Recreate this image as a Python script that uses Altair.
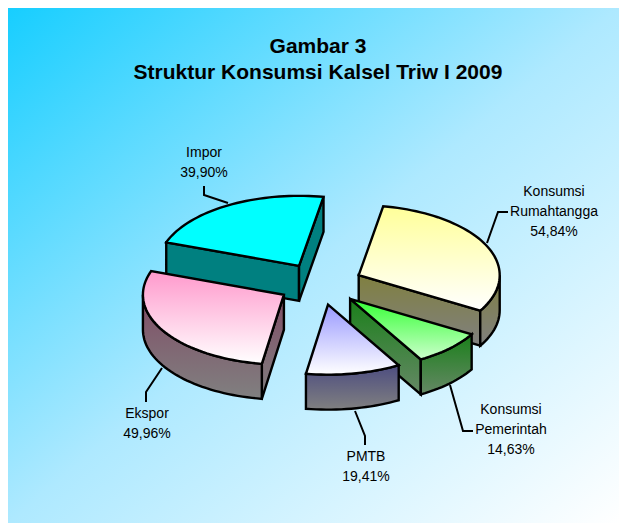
import math
import altair as alt
import pandas as pd

# ---- data ----
categories = ["Konsumsi Rumahtangga", "Konsumsi Pemerintah", "PMTB", "Ekspor", "Impor"]
values = [54.84, 14.63, 19.41, 49.96, 39.90]
value_labels = ["54,84%", "14,63%", "19,41%", "49,96%", "39,90%"]
label_lines = [["Konsumsi", "Rumahtangga"], ["Konsumsi", "Pemerintah"], ["PMTB"], ["Ekspor"], ["Impor"]]
title_lines = ["Gambar 3", "Struktur Konsumsi Kalsel Triw I 2009"]

# ---- layout and style (pixels in the picture) ----
W, H = 611, 515
OX, OY = 8, 8
CX, CY, RX, RY, DEPTH, EXPLODE = 320.3, 284.0, 141, 70, 35, 0.30
START = -80.0
top_colors = [("#FFFF99", "#FFFFFF"), ("#33FF33", "#CCFFCC"), ("#9999FF", "#FFFFFF"),
              ("#FF99CC", "#FFFFFF"), ("#00FFFF", "#00FFFF")]
wall_colors = [("#808040", "#808080"), ("#1A801A", "#668866"), ("#4D4D80", "#808080"),
               ("#804D66", "#808080"), ("#008080", "#008080")]
draw_order = [4, 0, 3, 1, 2]
label_pos = [(554, 192), (511, 410), (366, 457), (147, 414), (204, 153)]
LINE_STEP = 20
leaders = [[(508, 212), (498, 212), (487, 243)],
           [(473, 431), (463, 431), (450, 385)],
           [(365, 445), (365, 436), (355, 411)],
           [(146, 402), (146, 392), (162, 368)],
           [(204, 186), (204, 195), (228, 203)]]

x_scale = alt.Scale(domain=[OX, OX + W], range=[0, W], nice=False, zero=False)
y_scale = alt.Scale(domain=[OY, OY + H], range=[0, H], nice=False, zero=False)
X = alt.X("x:Q", scale=x_scale, axis=None)
Y = alt.Y("y:Q", scale=y_scale, axis=None)


def grad(c0, c1):
    return alt.LinearGradient(gradient="linear", x1=0, y1=0, x2=0, y2=1,
                              stops=[alt.GradientStop(offset=0, color=c0),
                                     alt.GradientStop(offset=1, color=c1)])


def face(points, colors):
    df = pd.DataFrame({"x": [p[0] for p in points], "y": [p[1] for p in points],
                       "i": range(len(points))})
    return alt.Chart(df).mark_line(fill=grad(*colors), stroke="black", strokeWidth=2.4,
                                   strokeJoin="miter", interpolate="linear-closed"
                                   ).encode(x=X, y=Y, order="i:O")


def arc(ax, ay, a0, a1, dy=0.0):
    n = max(2, int(abs(a1 - a0) / 2) + 1)
    return [(ax + RX * math.cos(math.radians(a0 + (a1 - a0) * k / (n - 1))),
             ay + dy + RY * math.sin(math.radians(a0 + (a1 - a0) * k / (n - 1)))) for k in range(n)]


total = sum(values)
spans = [v / total * 360 for v in values]
starts = [START + sum(spans[:i]) for i in range(len(values))]

background = alt.Chart(pd.DataFrame({"x": [OX], "x2": [OX + W], "y": [OY], "y2": [OY + H]})).mark_rect(
    fill=alt.LinearGradient(gradient="linear", x1=0, y1=0, x2=1, y2=1,
                            stops=[alt.GradientStop(offset=0, color="#17CEFF"),
                                   alt.GradientStop(offset=0.5, color="#AEE9FF"),
                                   alt.GradientStop(offset=1, color="#FFFFFF")])
).encode(x=X, x2="x2:Q", y=Y, y2="y2:Q")

layers = [background]

for pts in leaders:
    df = pd.DataFrame({"x": [p[0] for p in pts], "y": [p[1] for p in pts], "i": range(len(pts))})
    layers.append(alt.Chart(df).mark_line(color="black", strokeWidth=2).encode(x=X, y=Y, order="i:O"))

for i in draw_order:
    a0, a1 = starts[i], starts[i] + spans[i]
    mid = math.radians((a0 + a1) / 2)
    ax = CX + EXPLODE * RX * math.cos(mid)
    ay = CY + EXPLODE * RY * math.sin(mid)
    walls = []
    # radial cut faces that look towards the viewer
    for ang, visible in ((a0, math.cos(math.radians(a0)) < 0), (a1, math.cos(math.radians(a1)) > 0)):
        if visible:
            px = ax + RX * math.cos(math.radians(ang))
            py = ay + RY * math.sin(math.radians(ang))
            walls.append([(ax, ay), (px, py), (px, py + DEPTH), (ax, ay + DEPTH)])
    # outer rim, only its front half
    lo = max(a0, 0)
    hi = min(a1, 180)
    if hi > lo:
        top = arc(ax, ay, lo, hi)
        bottom = arc(ax, ay, lo, hi, DEPTH)
        walls.append(top + bottom[::-1])
    for w in walls:
        layers.append(face(w, wall_colors[i]))
    layers.append(face([(ax, ay)] + arc(ax, ay, a0, a1), top_colors[i]))

rows = []
for i, lines in enumerate(label_lines):
    x0, y0 = label_pos[i]
    for k, t in enumerate(lines + [value_labels[i]]):
        rows.append({"x": x0, "y": y0 + k * LINE_STEP, "t": t})
labels = alt.Chart(pd.DataFrame(rows)).mark_text(
    font="Liberation Sans", fontSize=14, color="black", align="center", baseline="middle"
).encode(x=X, y=Y, text="t:N")
layers.append(labels)

titles = alt.Chart(pd.DataFrame({"x": [318, 318], "y": [47, 73], "t": title_lines})).mark_text(
    font="Liberation Sans", fontSize=21, fontWeight="bold", color="black", align="center", baseline="middle"
).encode(x=X, y=Y, text="t:N")
layers.append(titles)

chart = alt.layer(*layers).properties(width=W, height=H, padding=0, background="white").configure_view(stroke=None)
chart.save("out.html", embed_options={"renderer": "svg", "actions": False})
